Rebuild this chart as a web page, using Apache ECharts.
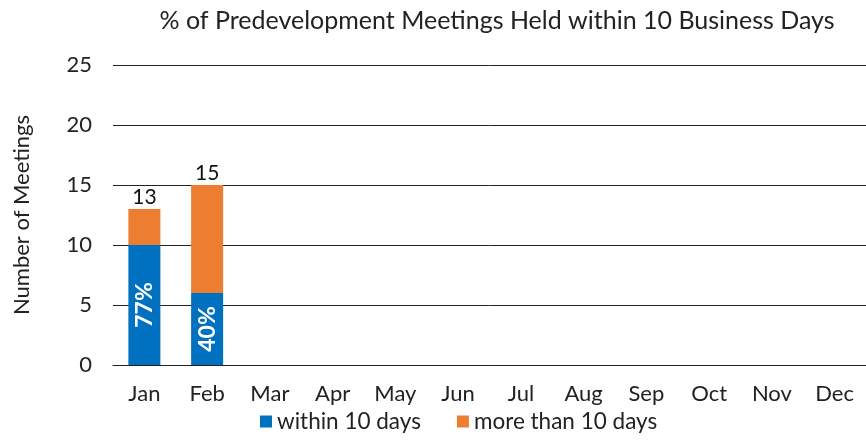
<!DOCTYPE html>
<html>
<head>
<meta charset="utf-8">
<title>Predevelopment Meetings</title>
<script src="https://cdn.jsdelivr.net/npm/echarts@6/dist/echarts.min.js"></script>
<style>
  html, body { margin: 0; padding: 0; background: #fff; }
</style>
</head>
<body>
<div id="main" style="width:866px;height:440px;"></div>
<script>
var months = ['Jan', 'Feb', 'Mar', 'Apr', 'May', 'Jun', 'Jul', 'Aug', 'Sep', 'Oct', 'Nov', 'Dec'];
var within10 = [10, 6];
var moreThan10 = [3, 9];
var yTicks = [0, 5, 10, 15, 20, 25];

var font = 'Lato';
var chart = echarts.init(document.getElementById('main'));

function total(i) {
  return (within10[i] || 0) + (moreThan10[i] || 0);
}

var option = {
  animation: false,
  textStyle: { fontFamily: font },
  title: {
    text: '% of Predevelopment Meetings Held within 10 Business Days',
    left: 492, top: 3, textAlign: 'center',
    textStyle: { fontFamily: font, fontWeight: 'normal', fontSize: 25, color: '#222' }
  },
  legend: {
    bottom: 2, left: 255,
    itemWidth: 12, itemHeight: 12, itemGap: 36,
    icon: 'rect',
    textStyle: { fontFamily: font, fontSize: 22.5, color: '#222' },
    data: ['within 10 days', 'more than 10 days']
  },
  grid: { left: 113, right: 0, top: 65, bottom: 75 },
  xAxis: {
    type: 'category',
    data: months,
    axisTick: { show: false },
    axisLine: { lineStyle: { color: '#222' } },
    axisLabel: { fontSize: 22, color: '#222', margin: 18 }
  },
  yAxis: {
    type: 'value',
    min: yTicks[0], max: yTicks[yTicks.length - 1], interval: 5,
    name: 'Number of Meetings',
    nameLocation: 'middle', nameGap: 80,
    nameTextStyle: { fontSize: 22, color: '#222' },
    axisLine: { show: false },
    axisTick: { show: false },
    axisLabel: { fontSize: 22, color: '#222', margin: 21 },
    splitLine: { lineStyle: { color: '#222', width: 1 } }
  },
  series: [
    {
      name: 'within 10 days', type: 'bar', stack: 'm',
      barWidth: '51%',
      itemStyle: { color: '#0070C0' },
      data: within10,
      label: {
        show: true, position: 'inside', rotate: 90,
        color: '#fff', fontSize: 23, fontWeight: 'bold',
        formatter: function (p) { return Math.round(within10[p.dataIndex] / total(p.dataIndex) * 100) + '%'; }
      }
    },
    {
      name: 'more than 10 days', type: 'bar', stack: 'm',
      itemStyle: { color: '#ED7D31' },
      data: moreThan10,
      label: {
        show: true, position: 'top', distance: 1,
        color: '#111', fontSize: 21,
        formatter: function (p) { return total(p.dataIndex); }
      }
    }
  ]
};
chart.setOption(option);
</script>
</body>
</html>
